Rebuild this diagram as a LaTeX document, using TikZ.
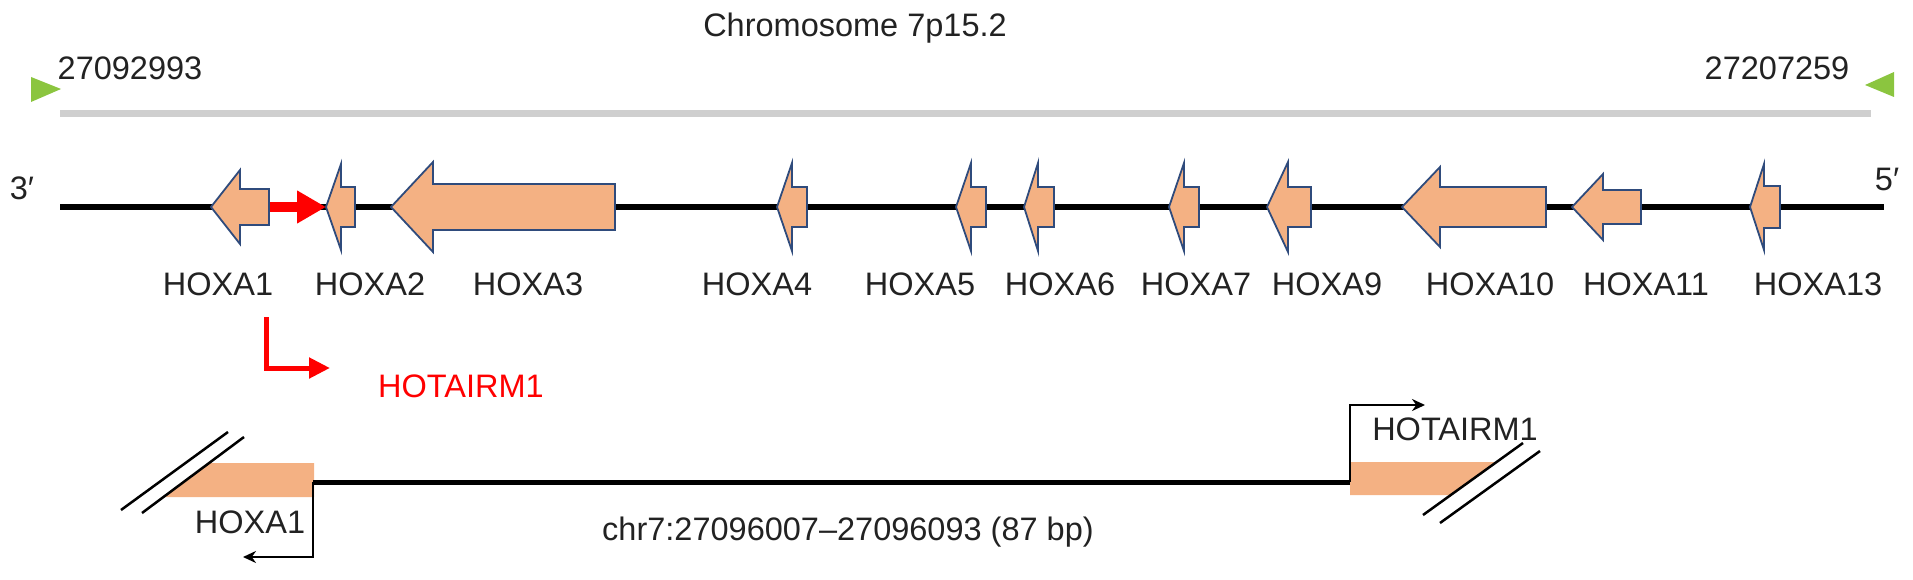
\documentclass[tikz,border=0pt]{standalone}
\usepackage{fontspec}
\setmainfont{Liberation Sans}
\usetikzlibrary{arrows.meta}
\definecolor{geneorange}{HTML}{F4B183}
\definecolor{geneedge}{HTML}{2F4B7C}
\definecolor{markgreen}{HTML}{8BC53F}
\definecolor{chromgray}{HTML}{CFCFCF}
\definecolor{txt}{HTML}{222222}
\tikzset{
  lbl/.style={inner sep=0pt, anchor=base, text=txt, font=\fontsize{32.5}{38}\selectfont},
  gene/.style={fill=geneorange, draw=geneedge, line width=1.8pt, line join=miter},
  bentarrow/.style={line width=2.5pt, -{Stealth[length=13pt,width=12pt]}},
  slash/.style={line width=2.5pt},
}
% #1 name, #2 tip x, #3 head base x, #4 end x, #5 head half-height, #6 body half-height
\newcommand{\genearrow}[6]{%
  \coordinate (#1tip) at (#2,207);
  \coordinate (#1end) at (#4,207);
  \draw[gene] (#2,207) -- (#3,207-#5) -- (#3,207-#6) -- (#4,207-#6) -- (#4,207+#6) -- (#3,207+#6) -- (#3,207+#5) -- cycle;
}
\begin{document}
\begin{tikzpicture}[x=1pt,y=-1pt]
\useasboundingbox (0,0) rectangle (1913,580);
% title and coordinates
\node[lbl] (title) at (855,37) {Chromosome 7p15.2};
\node[lbl] (startpos) at (130,80) {27092993};
\node[lbl] (endpos) at (1777,80) {27207259};
\fill[markgreen] (31,77) -- (31,102) -- (61,89) -- cycle;
\fill[markgreen] (1894,72) -- (1894,97) -- (1865,85) -- cycle;
% chromosome lines
\coordinate (g1) at (60,114); \coordinate (g2) at (1871,114);
\draw[chromgray, line width=7pt] (g1) -- (g2);
\coordinate (m1) at (60,207); \coordinate (m2) at (1884,207);
\draw[black, line width=5pt] (m1) -- (m2);
\node[lbl] (three) at (22,200) {3′};
\node[lbl] (five) at (1887,190) {5′};
% genes
\genearrow{a1}{211}{240}{269}{37}{18}
\genearrow{a2}{326}{341}{355}{43}{20}
\genearrow{a3}{391}{433}{615}{45}{23}
\genearrow{a4}{777}{792}{807}{44}{20}
\genearrow{a5}{956}{971}{986}{44}{20}
\genearrow{a6}{1024}{1038}{1054}{44}{20}
\genearrow{a7}{1169}{1184}{1199}{44}{20}
\genearrow{a9}{1267}{1288}{1311}{45}{20}
\genearrow{a10}{1402}{1440}{1546}{40}{20}
\genearrow{a11}{1572}{1603}{1641}{33}{17}
\genearrow{a13}{1750}{1764}{1780}{43}{21}
% red arrow between HOXA1 and HOXA2
\draw[red, line width=10pt, -{Triangle[length=29pt,width=31pt]}, shorten <=1pt] (a1end) -- (a2tip);
% gene labels
\node[lbl] (l1) at (218,295) {HOXA1};
\node[lbl] (l2) at (370,295) {HOXA2};
\node[lbl] (l3) at (528,295) {HOXA3};
\node[lbl] (l4) at (757,295) {HOXA4};
\node[lbl] (l5) at (920,295) {HOXA5};
\node[lbl] (l6) at (1060,295) {HOXA6};
\node[lbl] (l7) at (1196,295) {HOXA7};
\node[lbl] (l9) at (1327,295) {HOXA9};
\node[lbl] (l10) at (1490,295) {HOXA10};
\node[lbl] (l11) at (1646,295) {HOXA11};
\node[lbl] (l13) at (1818,295) {HOXA13};
% red promoter arrow
\coordinate (r0) at (266,317); \coordinate (r1) at (266,368); \coordinate (r2) at (330,368);
\draw[red, line width=5pt, -{Triangle[length=21pt,width=20pt]}] (r0) -- (r1) -- (r2);
\node[lbl, text=red] (redhot) at (461,397) {HOTAIRM1};
% lower detail
\fill[geneorange] (210,463) -- (314,463) -- (314,497) -- (164,497) -- cycle;
\fill[geneorange] (1350,462) -- (1497,462) -- (1451,495) -- (1350,495) -- cycle;
\draw[slash] (121,510) -- (228,432);
\draw[slash] (142,513) -- (244,437);
\draw[slash] (1423,515) -- (1523,443);
\draw[slash] (1440,523) -- (1540,451);
\coordinate (b1) at (313,482); \coordinate (b2) at (1350,482);
\draw[black, line width=5pt] (b1) -- (b2);
\coordinate (d1) at (313,557); \coordinate (d2) at (243,557);
\draw[bentarrow] (b1) -- (d1) -- (d2);
\coordinate (u1) at (1350,405); \coordinate (u2) at (1425,405);
\draw[bentarrow] (b2) -- (u1) -- (u2);
\node[lbl] (hoxlow) at (250,533) {HOXA1};
\node[lbl] (hotlow) at (1455,440) {HOTAIRM1};
\node[lbl] (chr) at (848,540) {chr7:27096007–27096093 (87 bp)};
\end{tikzpicture}
\end{document}
